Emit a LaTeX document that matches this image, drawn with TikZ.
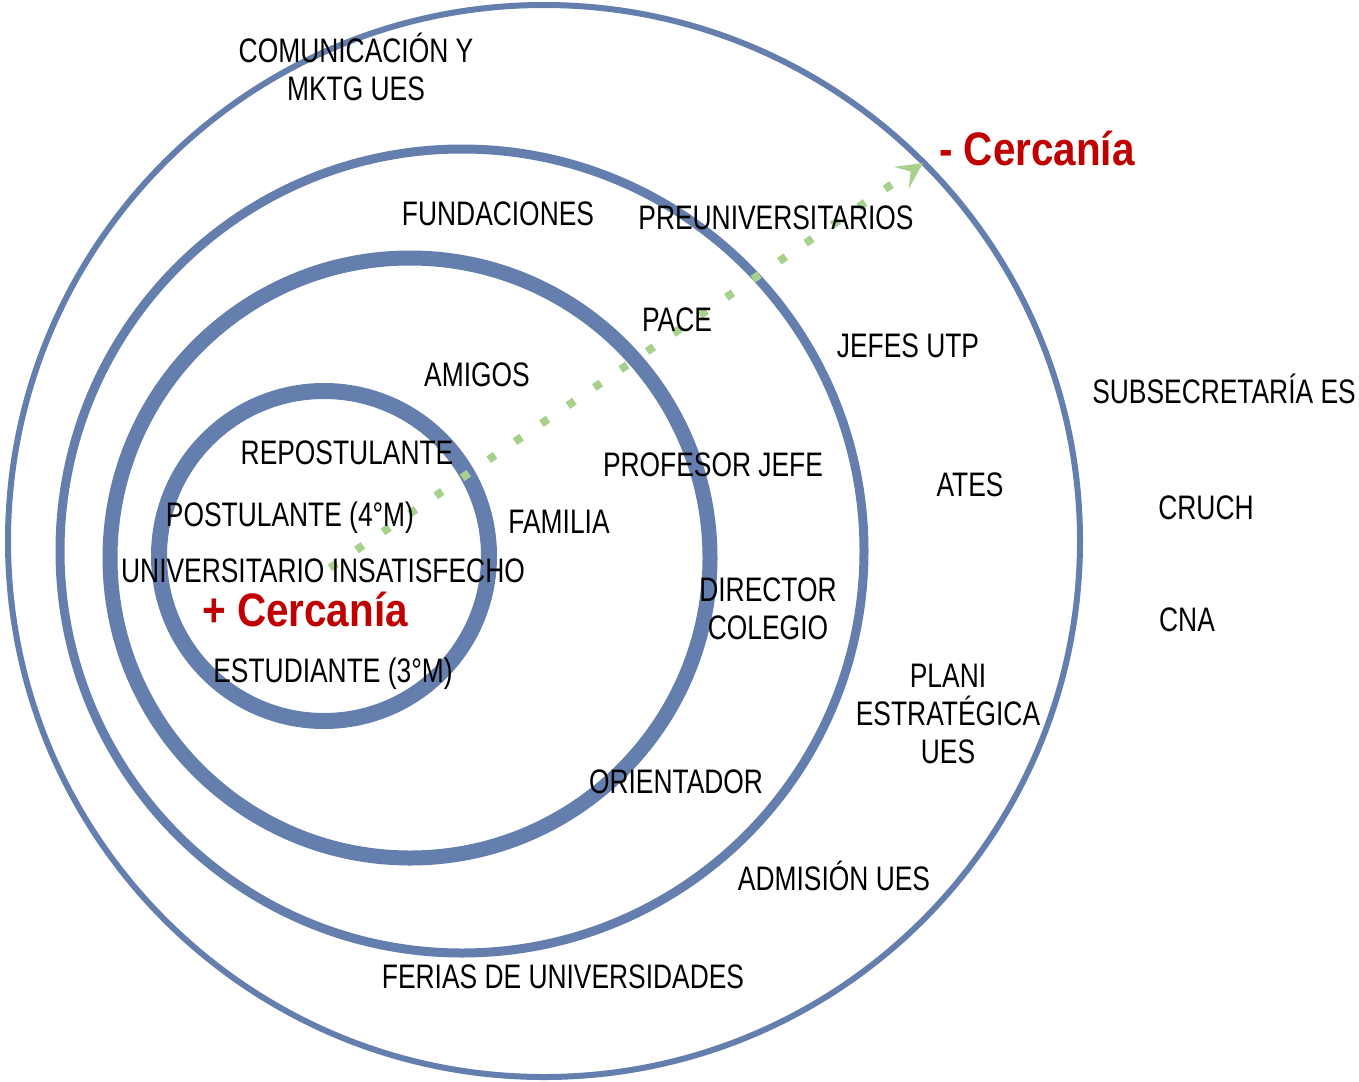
\documentclass[tikz,border=0pt]{standalone}
\usepackage{fontspec}
\setmainfont[FakeStretch=0.776]{Liberation Sans}
\newfontfamily\redfont[FakeStretch=0.86]{Liberation Sans}
\usetikzlibrary{arrows.meta}
\definecolor{ringblue}{RGB}{100,126,174}
\definecolor{arrgreen}{RGB}{169,209,142}
\definecolor{hotred}{RGB}{192,0,0}
\tikzset{
  ring/.style={draw=ringblue},
  lbl/.style={inner sep=0pt, font=\fontsize{34}{38}\selectfont, text=black, align=center},
  lblb/.style={lbl, anchor=base},
  redlbl/.style={inner sep=0pt, anchor=base, text=hotred, font=\redfont\bfseries\fontsize{47}{50}\selectfont},
  greenarrow/.style={draw=arrgreen, line width=8pt, dash pattern=on 8pt off 24pt,
     -{Stealth[length=26pt, width=26pt, inset=11pt, fill=arrgreen]}}
}
\begin{document}
\begin{tikzpicture}[x=1pt,y=-1pt]
\useasboundingbox (0,0) rectangle (1359,1081);
% rings
\draw[ring, line width=6pt] (544,541) circle (536);
\draw[ring, line width=9pt] (462,551) circle (402);
\draw[ring, line width=15pt] (410,558) circle (300);
\draw[ring, line width=16pt] (324,556) circle (165);
% arrow
\coordinate (arrS) at (330,568);
\coordinate (arrE) at (923,163);
\draw[greenarrow] (arrS) -- (arrE);
% labels
\node[lbl] (com) at (356,67) {COMUNICACIÓN Y\\MKTG UES};
\node[lblb] (fund) at (498,225) {FUNDACIONES};
\node[lblb] (preu) at (776,229) {PREUNIVERSITARIOS};
\node[redlbl] (menos) at (1037,165) {- Cercanía};
\node[lblb] (pace) at (677,331) {PACE};
\node[lblb] (jefes) at (908,357) {JEFES UTP};
\node[lblb] (subs) at (1224,403) {SUBSECRETARÍA ES};
\node[lblb] (amigos) at (477,386) {AMIGOS};
\node[lblb] (repo) at (347,464) {REPOSTULANTE};
\node[lblb] (prof) at (713,476) {PROFESOR JEFE};
\node[lblb] (ates) at (970,496) {ATES};
\node[lblb] (cruch) at (1206,519) {CRUCH};
\node[lblb] (post) at (290,526) {POSTULANTE (4°M)};
\node[lblb] (fam) at (559,533) {FAMILIA};
\node[lblb] (univ) at (323,582) {UNIVERSITARIO INSATISFECHO};
\node[redlbl] (mas) at (305,626) {+ Cercanía};
\node[lbl] (dir) at (768,609) {DIRECTOR\\COLEGIO};
\node[lblb] (cna) at (1187,631) {CNA};
\node[lbl] (plani) at (948,714) {PLANI\\ESTRATÉGICA\\UES};
\node[lblb] (estu) at (333,682) {ESTUDIANTE (3°M)};
\node[lblb] (orie) at (676,793) {ORIENTADOR};
\node[lblb] (admi) at (834,890) {ADMISIÓN UES};
\node[lblb] (feri) at (563,988) {FERIAS DE UNIVERSIDADES};
\end{tikzpicture}
\end{document}
